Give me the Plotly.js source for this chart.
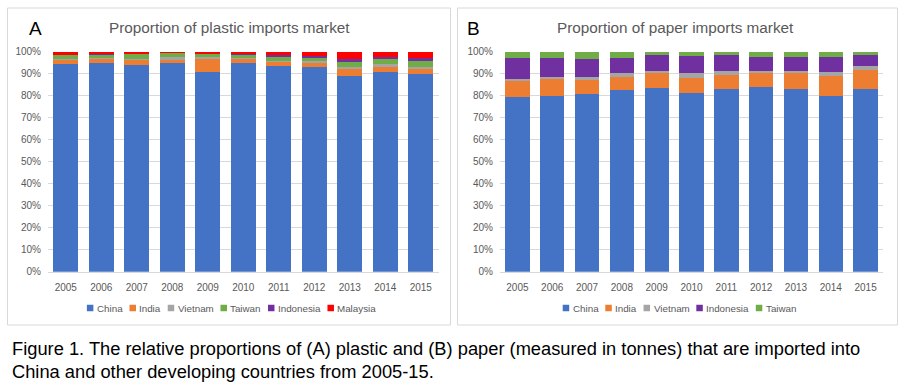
<!DOCTYPE html>
<html>
<head>
<meta charset="utf-8">
<script src="https://cdn.plot.ly/plotly-3.0.1.min.js"></script>
<style>
html,body{margin:0;padding:0;background:#fff;}
#chart{width:905px;height:390px;}
</style>
</head>
<body>
<div id="chart"></div>
<script>
// ---- data ----
const years = ['2005','2006','2007','2008','2009','2010','2011','2012','2013','2014','2015'];

// Plastic imports (%)
const plasticNames = ['China','India','Vietnam','Taiwan','Indonesia','Malaysia'];
const plasticChina     = [94.3, 95.0, 94.0, 95.0, 90.8, 94.7, 93.6, 92.9, 89.1, 90.6, 89.8];
const plasticIndia     = [2.0, 1.5, 2.3, 1.2, 5.8, 1.8, 1.8, 2.1, 3.0, 2.6, 2.3];
const plasticVietnam   = [0.4, 0.5, 0.5, 1.2, 0.8, 0.5, 0.5, 0.8, 1.1, 1.1, 1.1];
const plasticTaiwan    = [1.8, 1.5, 2.1, 1.8, 1.4, 1.5, 1.8, 1.2, 2.1, 2.3, 2.6];
const plasticIndonesia = [0.1, 0.3, 0.2, 0.3, 0.3, 0.6, 0.8, 1.2, 1.4, 0.9, 1.5];
const plasticMalaysia  = [1.4, 1.2, 0.9, 0.5, 0.9, 0.9, 1.5, 1.8, 3.3, 2.5, 2.7];

// Paper imports (%)
const paperNames = ['China','India','Vietnam','Indonesia','Taiwan'];
const paperChina     = [79.3, 80.0, 80.6, 82.6, 83.7, 81.4, 83.0, 83.8, 83.0, 79.9, 83.0];
const paperIndia     = [7.6, 7.4, 6.5, 5.8, 6.7, 6.8, 6.4, 6.4, 7.1, 9.2, 8.6];
const paperVietnam   = [0.9, 0.9, 1.5, 1.8, 0.9, 2.0, 2.0, 1.1, 1.2, 1.8, 2.0];
const paperIndonesia = [9.2, 8.7, 7.9, 7.1, 7.0, 7.8, 6.9, 6.1, 6.4, 6.5, 4.7];
const paperTaiwan    = [3.0, 3.0, 3.5, 2.7, 1.7, 2.0, 1.7, 2.6, 2.3, 2.6, 1.7];

const yTicks = [0,10,20,30,40,50,60,70,80,90,100];
const yTickText = yTicks.map(v => v + '%');

const colors = {China:'#4472C4', India:'#ED7D31', Vietnam:'#A5A5A5', Taiwan:'#70AD47', Indonesia:'#7030A0', Malaysia:'#FF0000'};

const titleA = 'Proportion of plastic imports market';
const titleB = 'Proportion of paper imports market';
const caption1 = 'Figure 1. The relative proportions of (A) plastic and (B) paper (measured in tonnes) that are imported into';
const caption2 = 'China and other developing countries from 2005-15.';

// ---- layout helpers ----
const W = 905, H = 390;
const px = x => x / W;
const py = y => 1 - y / H;
const FONT = 'Liberation Sans, Arial, sans-serif';
const GREY = '#595959';

const plasticSeries = [plasticChina, plasticIndia, plasticVietnam, plasticTaiwan, plasticIndonesia, plasticMalaysia];
const paperSeries = [paperChina, paperIndia, paperVietnam, paperIndonesia, paperTaiwan];

const traces = [];
plasticNames.forEach((n, i) => traces.push({
  type:'bar', x: years, y: plasticSeries[i], name: n, xaxis:'x', yaxis:'y',
  marker:{color: colors[n]}, showlegend:false, hovertemplate:'%{y}%<extra>'+n+'</extra>'
}));
paperNames.forEach((n, i) => traces.push({
  type:'bar', x: years, y: paperSeries[i], name: n, xaxis:'x2', yaxis:'y2',
  marker:{color: colors[n]}, showlegend:false, hovertemplate:'%{y}%<extra>'+n+'</extra>'
}));

const axisX = {
  type:'category', showgrid:false, showline:true, linecolor:'#D9D9D9', linewidth:1,
  ticks:'', tickfont:{family:FONT, size:10, color:GREY}, fixedrange:true, ticklabelstandoff:6
};
const axisY = {
  range:[0,100], tickvals:yTicks, ticktext:yTickText, showgrid:true, gridcolor:'#D9D9D9', gridwidth:1,
  zeroline:false, showline:false, ticks:'', tickfont:{family:FONT, size:10, color:GREY}, fixedrange:true,
  ticklabelstandoff:6
};

const yDom = [py(271.7), py(51.7)];

// legend via measured text widths
const cv = document.createElement('canvas').getContext('2d');
const LFS = 9.8;
cv.font = LFS + 'px "Liberation Sans"';
function legendAnns(names, centerX, y) {
  const sq = 6.5, gapIn = 2.5, gapOut = 8;
  const widths = names.map(n => sq + gapIn + cv.measureText(n).width);
  const total = widths.reduce((a,b)=>a+b,0) + gapOut*(names.length-1);
  let x = centerX - total/2;
  const anns = [], shapes = [];
  names.forEach((n,i) => {
    shapes.push({type:'rect', xref:'paper', yref:'paper', x0:px(x), x1:px(x+sq), y0:py(y+sq/2), y1:py(y-sq/2),
      fillcolor:colors[n], line:{width:0}});
    anns.push({xref:'paper', yref:'paper', x:px(x+sq+gapIn-1), y:py(y), xanchor:'left', yanchor:'middle',
      text:n, showarrow:false, font:{family:FONT, size:LFS, color:GREY}});
    x += widths[i] + gapOut;
  });
  return {anns, shapes};
}
const legA = legendAnns(plasticNames, 231, 308);
const legB = legendAnns(paperNames, 679, 308);

const layout = {
  width:W, height:H, margin:{l:0,r:0,t:0,b:0},
  paper_bgcolor:'#fff', plot_bgcolor:'rgba(0,0,0,0)',
  barmode:'stack', bargap:0.3, showlegend:false,
  font:{family:FONT, color:GREY},
  xaxis: Object.assign({}, axisX, {domain:[px(48), px(438.5)], anchor:'y'}),
  yaxis: Object.assign({}, axisY, {domain:yDom, anchor:'x'}),
  xaxis2: Object.assign({}, axisX, {domain:[px(500), px(883)], anchor:'y2'}),
  yaxis2: Object.assign({}, axisY, {domain:yDom, anchor:'x2'}),
  shapes: [
    {type:'rect', xref:'paper', yref:'paper', x0:px(7.5), x1:px(450.5), y0:py(325), y1:py(8), line:{color:'#D9D9D9', width:1}},
    {type:'rect', xref:'paper', yref:'paper', x0:px(457.5), x1:px(897.5), y0:py(325), y1:py(8), line:{color:'#D9D9D9', width:1}}
  ].concat(legA.shapes, legB.shapes),
  annotations: [
    {xref:'paper', yref:'paper', x:px(229), y:py(28), xanchor:'center', yanchor:'middle', showarrow:false,
      text:titleA, font:{family:FONT, size:15.3, color:GREY}},
    {xref:'paper', yref:'paper', x:px(675), y:py(28), xanchor:'center', yanchor:'middle', showarrow:false,
      text:titleB, font:{family:FONT, size:15.3, color:GREY}},
    {xref:'paper', yref:'paper', x:px(27), y:py(29), xanchor:'left', yanchor:'middle', showarrow:false,
      text:'A', font:{family:FONT, size:19, color:'#000'}},
    {xref:'paper', yref:'paper', x:px(465), y:py(29), xanchor:'left', yanchor:'middle', showarrow:false,
      text:'B', font:{family:FONT, size:19, color:'#000'}},
    {xref:'paper', yref:'paper', x:px(10), y:py(348), xanchor:'left', yanchor:'middle', showarrow:false,
      text:caption1, font:{family:FONT, size:18.3, color:'#000'}},
    {xref:'paper', yref:'paper', x:px(10), y:py(371), xanchor:'left', yanchor:'middle', showarrow:false,
      text:caption2, font:{family:FONT, size:18.3, color:'#000'}}
  ].concat(legA.anns, legB.anns)
};

Plotly.newPlot('chart', traces, layout, {displayModeBar:false, staticPlot:true});
</script>
</body>
</html>
